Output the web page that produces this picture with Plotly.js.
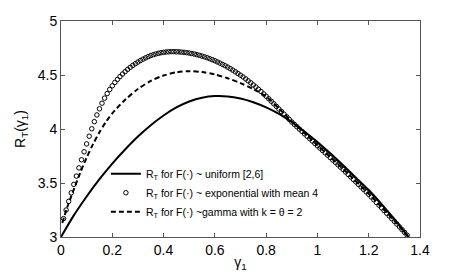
<!DOCTYPE html>
<html>
<head>
<meta charset="utf-8">
<script src="https://cdn.plot.ly/plotly-3.0.1.min.js"></script>
<style>html,body{margin:0;padding:0;background:#fff;}#chart{width:464px;height:277px;}</style>
</head>
<body>
<div id="chart"></div>
<script>
// uniform [2,6]
const uniX = [0, 0.05, 0.10, 0.15, 0.20, 0.25, 0.30, 0.35, 0.40, 0.45, 0.50, 0.55, 0.60, 0.65, 0.70, 0.75, 0.80, 0.85, 0.90, 0.95, 1.00, 1.05, 1.10, 1.15, 1.20, 1.25, 1.30, 1.355];
const uniY = [3.000, 3.200, 3.375, 3.535, 3.680, 3.810, 3.930, 4.035, 4.125, 4.200, 4.255, 4.290, 4.305, 4.302, 4.282, 4.248, 4.200, 4.140, 4.065, 3.975, 3.880, 3.775, 3.665, 3.550, 3.435, 3.305, 3.165, 3.000];

// exponential with mean 4
const expX = [0.01,0.02,0.03,0.04,0.05,0.06,0.07,0.08,0.09,0.10,
  0.11,0.12,0.13,0.14,0.15,0.16,0.17,0.18,0.19,0.20,
  0.21,0.22,0.23,0.24,0.25,0.26,0.27,0.28,0.29,0.30,
  0.31,0.32,0.33,0.34,0.35,0.36,0.37,0.38,0.39,0.40,
  0.41,0.42,0.43,0.44,0.45,0.46,0.47,0.48,0.49,0.50,
  0.51,0.52,0.53,0.54,0.55,0.56,0.57,0.58,0.59,0.60,
  0.61,0.62,0.63,0.64,0.65,0.66,0.67,0.68,0.69,0.70,
  0.71,0.72,0.73,0.74,0.75,0.76,0.77,0.78,0.79,0.80,
  0.81,0.82,0.83,0.84,0.85,0.86,0.87,0.88,0.89,0.90,
  0.91,0.92,0.93,0.94,0.95,0.96,0.97,0.98,0.99,1.00,
  1.01,1.02,1.03,1.04,1.05,1.06,1.07,1.08,1.09,1.10,
  1.11,1.12,1.13,1.14,1.15,1.16,1.17,1.18,1.19,1.20,
  1.21,1.22,1.23,1.24,1.25,1.26,1.27,1.28,1.29,1.30,
  1.31,1.32,1.33,1.34,1.35];
const expY = [3.170,3.250,3.330,3.409,3.487,3.564,3.640,3.715,3.789,3.862,
  3.933,4.002,4.068,4.130,4.187,4.239,4.286,4.328,4.366,4.400,
  4.431,4.459,4.485,4.509,4.531,4.552,4.571,4.589,4.605,4.620,
  4.634,4.647,4.659,4.670,4.680,4.688,4.695,4.701,4.706,4.710,
  4.713,4.715,4.716,4.716,4.715,4.714,4.712,4.710,4.707,4.703,
  4.699,4.694,4.688,4.682,4.675,4.668,4.660,4.651,4.642,4.632,
  4.621,4.610,4.598,4.586,4.573,4.559,4.545,4.530,4.514,4.498,
  4.482,4.464,4.446,4.428,4.408,4.389,4.368,4.347,4.325,4.303,
  4.280,4.257,4.233,4.209,4.185,4.161,4.137,4.113,4.089,4.065,
  4.043,4.021,3.999,3.977,3.955,3.933,3.911,3.889,3.867,3.845,
  3.823,3.801,3.779,3.757,3.735,3.713,3.691,3.669,3.647,3.625,
  3.602,3.579,3.556,3.533,3.510,3.487,3.464,3.441,3.418,3.395,
  3.370,3.345,3.320,3.295,3.270,3.245,3.220,3.195,3.170,3.145,
  3.120,3.094,3.068,3.042,3.016];

// gamma with k = theta = 2
const gamX = [0.005, 0.025, 0.05, 0.075, 0.10, 0.125, 0.15, 0.175, 0.20, 0.25, 0.30, 0.35, 0.40, 0.45, 0.50, 0.55, 0.60, 0.65, 0.70, 0.75, 0.80, 0.85, 0.90, 0.95, 1.00, 1.10, 1.20, 1.30, 1.355];
const gamY = [3.13, 3.28, 3.44, 3.595, 3.735, 3.86, 3.97, 4.065, 4.145, 4.27, 4.37, 4.445, 4.495, 4.525, 4.535, 4.527, 4.505, 4.47, 4.425, 4.37, 4.30, 4.19, 4.07, 3.96, 3.85, 3.63, 3.40, 3.15, 3.00];

const names = [
  'R<sub>T</sub> for F(·) ~ uniform [2,6]',
  'R<sub>T</sub> for F(·) ~ exponential with mean 4',
  'R<sub>T</sub> for F(·) ~gamma with k = θ = 2'
];
const xTicks = [0, 0.2, 0.4, 0.6, 0.8, 1, 1.2, 1.4];
const xTickText = ['0', '0.2', '0.4', '0.6', '0.8', '1', '1.2', '1.4'];
const yTicks = [3, 3.5, 4, 4.5, 5];
const yTickText = ['3', '3.5', '4', '4.5', '5'];

const traces = [
  {x: uniX, y: uniY, name: names[0], mode: 'lines', type: 'scatter',
   line: {color: '#000', width: 2, shape: 'spline', smoothing: 0.8}},
  {x: expX, y: expY, name: names[1], mode: 'markers', type: 'scatter',
   marker: {symbol: 'circle-open', size: 4.5, color: '#000', line: {width: 1, color: '#000'}}},
  {x: gamX, y: gamY, name: names[2], mode: 'lines', type: 'scatter',
   line: {color: '#000', width: 2, dash: '5px,3px', shape: 'spline', smoothing: 0.8}}
];

const axisCommon = {
  showline: true, linecolor: '#555', linewidth: 1, mirror: 'ticks',
  ticks: 'inside', ticklen: 4, tickcolor: '#555', tickwidth: 1,
  showgrid: false, zeroline: false,
  tickfont: {family: 'Liberation Sans, Arial, sans-serif', size: 14, color: '#000'}
};

const layout = {
  width: 464, height: 277,
  margin: {l: 61, r: 44, t: 21, b: 40, pad: 0},
  paper_bgcolor: '#fff', plot_bgcolor: '#fff',
  showlegend: true,
  legend: {x: 0.125, y: 0.36, xanchor: 'left', yanchor: 'top',
    bgcolor: 'rgba(0,0,0,0)', borderwidth: 0,
    font: {family: 'Liberation Sans, Arial, sans-serif', size: 10.5, color: '#000'},
    tracegroupgap: 0},
  xaxis: Object.assign({}, axisCommon, {
    range: [0, 1.4], tickvals: xTicks, ticktext: xTickText,
    title: {text: 'γ<sub>1</sub>', standoff: 0,
      font: {family: 'Liberation Sans, Arial, sans-serif', size: 14, color: '#000'}}
  }),
  yaxis: Object.assign({}, axisCommon, {
    range: [3, 5], tickvals: yTicks, ticktext: yTickText,
    title: {text: 'R<sub>T</sub>(γ<sub>1</sub>)', standoff: 8,
      font: {family: 'Liberation Sans, Arial, sans-serif', size: 14, color: '#000'}}
  })
};

Plotly.newPlot('chart', traces, layout, {displayModeBar: false, staticPlot: true});
</script>
</body>
</html>
